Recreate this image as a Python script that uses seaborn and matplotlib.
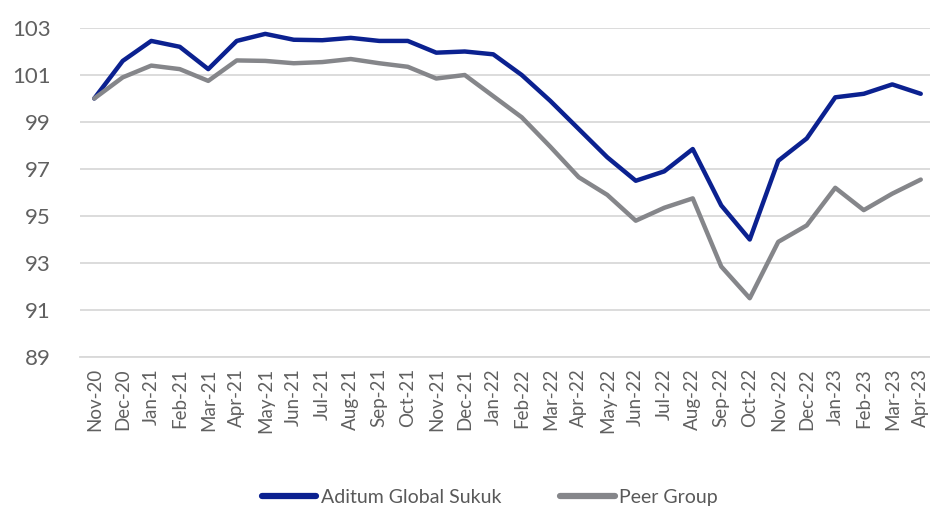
import pandas as pd
import matplotlib.pyplot as plt
import seaborn as sns

months = ["Nov-20", "Dec-20", "Jan-21", "Feb-21", "Mar-21", "Apr-21", "May-21", "Jun-21",
          "Jul-21", "Aug-21", "Sep-21", "Oct-21", "Nov-21", "Dec-21", "Jan-22", "Feb-22",
          "Mar-22", "Apr-22", "May-22", "Jun-22", "Jul-22", "Aug-22", "Sep-22", "Oct-22",
          "Nov-22", "Dec-22", "Jan-23", "Feb-23", "Mar-23", "Apr-23"]

aditum = [100.0, 101.6, 102.45, 102.2, 101.25, 102.45, 102.75, 102.5, 102.48, 102.58,
          102.45, 102.45, 101.95, 102.0, 101.88, 101.0, 99.9, 98.7, 97.5, 96.5,
          96.9, 97.85, 95.45, 94.0, 97.35, 98.3, 100.05, 100.2, 100.6, 100.2]

peer = [100.0, 100.9, 101.4, 101.25, 100.75, 101.62, 101.6, 101.5, 101.55, 101.68,
        101.5, 101.35, 100.85, 101.0, 100.1, 99.2, 97.95, 96.65, 95.9, 94.8,
        95.35, 95.75, 92.85, 91.5, 93.9, 94.6, 96.2, 95.25, 95.95, 96.55]

series_names = ["Aditum Global Sukuk", "Peer Group"]
y_ticks = [89, 91, 93, 95, 97, 99, 101, 103]

df = pd.DataFrame({
    "month": months * 2,
    "value": aditum + peer,
    "series": [series_names[0]] * len(months) + [series_names[1]] * len(months),
})

sns.set_style("white")
plt.rcParams["font.family"] = ["Lato", "DejaVu Sans"]

fig = plt.figure(figsize=(9.3, 5.09), dpi=100)
ax = fig.add_axes([80 / 930, 1 - 357 / 509, 855 / 930, 329 / 509])

sns.lineplot(data=df, x="month", y="value", hue="series", sort=False,
             palette=["#0b2190", "#85868a"], linewidth=3.2, ax=ax, legend=True)

ax.set_xlim(-0.5, len(months) - 0.5)
ax.set_ylim(89, 103)
ax.set_yticks(y_ticks)
ax.yaxis.grid(True, color="#d9d9d9", linewidth=1.3)
ax.set_axisbelow(True)
for s in ["top", "right", "left"]:
    ax.spines[s].set_visible(False)
ax.spines["bottom"].set_color("#d9d9d9")
ax.spines["bottom"].set_linewidth(1.3)

ax.set_xlabel("")
ax.set_ylabel("")
ax.tick_params(axis="y", length=0, pad=21, labelsize=16, labelcolor="#606060")
ax.set_xticks(range(len(months)))
ax.set_xticklabels(months, rotation=90, fontsize=13.5, color="#606060")
ax.tick_params(axis="x", which="major", length=0, pad=8)
ax.set_xticks([i - 0.5 for i in range(len(months) + 1)], minor=True)
ax.tick_params(axis="x", which="minor", length=8, width=1.3, color="#d9d9d9", direction="out")

handles, labels = ax.get_legend_handles_labels()
ax.get_legend().remove()
leg = fig.legend(handles, labels, loc="center", ncol=2, frameon=False,
                 bbox_to_anchor=(0.527, 0.022), fontsize=14, handlelength=2.8,
                 handletextpad=0.25, columnspacing=3.0, labelcolor="#595959")
for h in leg.get_lines():
    h.set_linewidth(4.5)

fig.savefig("out.png", dpi=100)
